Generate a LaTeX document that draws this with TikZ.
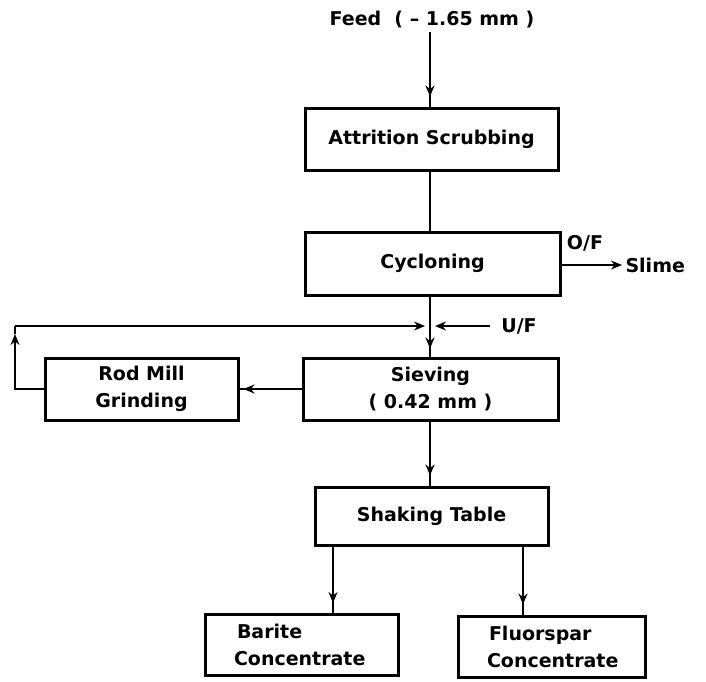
\documentclass[tikz,border=0pt]{standalone}
\usepackage{fontspec}
\setmainfont{DejaVu Sans}
\usetikzlibrary{arrows.meta,decorations.markings}
\begin{document}
\begin{tikzpicture}[x=1pt,y=-1pt,
  every node/.style={font=\bfseries\fontsize{19}{27}\selectfont},
  box/.style={draw,line width=3pt,minimum height=62pt,inner sep=0pt},
  ln/.style={line width=1.8pt},
  tip/.style={-{Stealth[length=11pt,width=9pt]}},
  flow/.style={ln,decoration={markings,mark=at position -10pt with {\arrow{Stealth[length=11pt,width=9pt]}}},postaction={decorate}},
  flowm/.style={ln,decoration={markings,mark=at position #1 with {\arrow{Stealth[length=11pt,width=9pt]}}},postaction={decorate}}]
\useasboundingbox (0,0) rectangle (706,681);
\node (feed) at (432,20) {Feed\ \ ( -- 1.65 mm )};
\node[box,minimum width=253pt] (att) at (431.5,139) {Attrition Scrubbing};
\node[box,minimum width=255pt,minimum height=63pt] (cyc) at (432.5,263.5) {Cycloning};
\node[box,minimum width=255pt,align=center] (sie) at (430.5,389) {Sieving\\( 0.42 mm )};
\node[box,minimum width=193pt,align=center] (rod) at (141.5,389) {Rod Mill\\Grinding};
\node[box,minimum width=233pt,minimum height=58pt] (sha) at (431.5,516) {Shaking Table};
\node[box,minimum width=193pt,minimum height=61pt,align=left,text width=135pt] (bar) at (301.5,645) {\hspace*{3pt}Barite\\Concentrate};
\node[box,minimum width=187pt,minimum height=61pt,align=left,text width=129pt] (flu) at (551.5,646.5) {\hspace*{2pt}Fluorspar\\Concentrate};
\node[anchor=west] (slime) at (622,265) {Slime};
\node (of) at (585,243) {O/F};
\node (uf) at (519,326) {U/F};
\coordinate (cx) at (430,326);
\coordinate (ufe) at (490,326);
\coordinate (rl) at (15,326);
\coordinate (rb) at (15,389);
% connectors
\draw[flow] (feed.south -| 430,0) -- (att.north -| 430,0);
\draw[ln] (att.south -| 430,0) -- (cyc.north -| 430,0);
\draw[ln,tip] (cyc.east |- slime.west) -- (slime.west);
\draw[flowm=-8pt] (cyc.south -| cx) -- (sie.north -| cx);
\draw[ln,tip] (rl) -- ([xshift=-5pt]cx);
\draw[ln,tip] (ufe) -- ([xshift=5pt]cx);
\draw[ln,tip] (rod.west) -- (rb) -- ([yshift=-8pt]rl);
\draw[ln] ([yshift=-8pt]rl) -- (rl);
\draw[flowm=-4pt] (sie.west) -- (rod.east);
\draw[flow] (sie.south -| cx) -- (sha.north -| cx);
\draw[flow] (sha.south -| 333,0) -- (bar.north -| 333,0);
\draw[flow] (sha.south -| 523,0) -- (flu.north -| 523,0);
\end{tikzpicture}
\end{document}
